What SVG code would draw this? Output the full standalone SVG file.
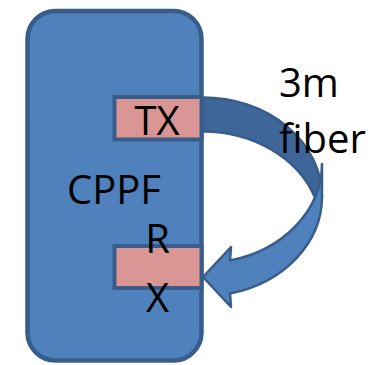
<svg xmlns="http://www.w3.org/2000/svg" width="378" height="365" viewBox="0 0 378 365">
  <style>
    .board { fill: #4F81BD; stroke: #385D8A; stroke-width: 4.5; }
    .port { fill: #D99694; stroke: #385D8A; stroke-width: 4; }
    .lbl { font-family: "Open Sans", "Liberation Sans", sans-serif; font-size: 40px; fill: #000; }
    .fiber-back { fill: #3F6698; stroke: #385D8A; stroke-width: 2.5; stroke-linejoin: round; }
    .fiber-front { fill: #4F81BD; stroke: #385D8A; stroke-width: 2.5; stroke-linejoin: round; }
  </style>
  <rect width="378" height="365" fill="#FFFFFF"/>

  <g id="cppf">
    <rect class="board" x="27.5" y="11" width="174" height="349.5" rx="28" ry="28"/>
    <text class="lbl" x="114" y="204" text-anchor="middle">CPPF</text>
  </g>

  <g id="tx">
    <rect class="port" x="114.5" y="97" width="87" height="42.5"/>
    <text class="lbl" x="157" y="135" text-anchor="middle">TX</text>
  </g>

  <g id="rx">
    <rect class="port" x="114.5" y="246" width="87" height="42"/>
    <text class="lbl" x="157.5" y="253" text-anchor="middle">R</text>
    <text class="lbl" x="157.5" y="312" text-anchor="middle">X</text>
  </g>

  <g id="connectors">
    <!-- upper (shaded) half of the curved fiber arrow -->
    <path class="fiber-back" d="M203,97.5 A119,99.5 0 0 1 322,197 L314.8,197 A119,99.5 0 0 0 203,131.5 Z"/>
    <!-- lower half with the arrowhead pointing into RX -->
    <path class="fiber-front" d="M230,260.4 L231,247 L203,277 L231,307 L230,293.4 A119,99.5 0 0 0 322,197 L322,164 A119,99.5 0 0 1 230,260.4 Z"/>
  </g>

  <g id="fiber-label">
    <text class="lbl" x="279" y="97">3m</text>
    <text class="lbl" x="279" y="153">fiber</text>
  </g>
</svg>
